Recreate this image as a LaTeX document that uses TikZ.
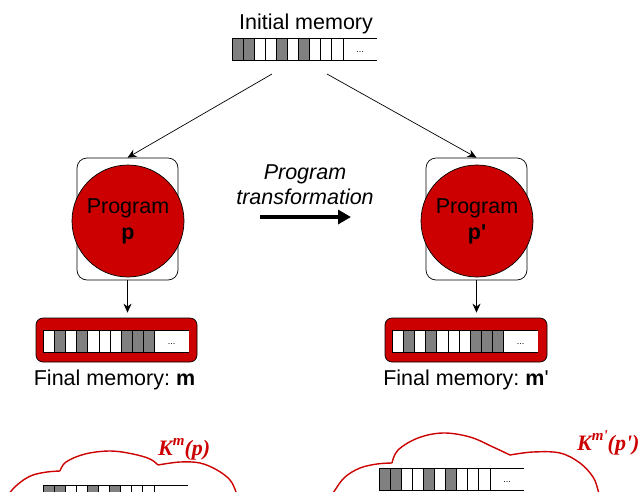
\documentclass[tikz,border=0pt]{standalone}
\usepackage{fontspec}
\setmainfont{Liberation Sans}
\newfontfamily\kfont{Liberation Serif}
\usetikzlibrary{arrows.meta,calc}
\definecolor{progred}{HTML}{CC0000}
\definecolor{cellgray}{HTML}{808080}
\frenchspacing

\tikzset{
  memslot/.style={minimum width=145pt,minimum height=22pt,inner sep=0pt,draw=none},
  celldraw/.style={draw=black,line width=0.6pt},
  dots/.style={font=\fontsize{9}{9}\selectfont,inner sep=0pt},
  progbox/.style={draw=black,fill=white,rounded corners=10pt,line width=0.7pt,
                  minimum width=101pt,minimum height=122pt,inner sep=0pt},
  progdisc/.style={circle,draw=black,fill=progred,line width=0.7pt,minimum size=112pt,
                   inner sep=0pt,align=center,font=\fontsize{21.5}{26}\selectfont},
  memframe/.style={draw=black,fill=progred,rounded corners=7pt,line width=0.7pt,
                   minimum height=44pt,inner sep=0pt},
  caption/.style={font=\fontsize{21.5}{25}\selectfont,inner sep=0pt},
  flow/.style={line width=0.7pt,-{Stealth[length=9pt,width=8pt]}},
  bigflow/.style={line width=4pt,-{Triangle[length=13pt,width=14pt]}},
  cloudline/.style={draw=progred,line width=1.4pt,line join=round},
  klabel/.style={text=progred,inner sep=0pt,font=\kfont\bfseries\itshape\fontsize{22}{22}\selectfont}
}

% a strip of ten memory cells followed by an open slot
\newcommand{\memcells}[3]{%
  \node[memslot] (#1) at #2 {};
  \fill[white] (#1.north west) rectangle (#1.south east);
  \foreach \s [count=\i from 0] in {#3}{
    \draw[celldraw,fill=\s] ($(#1.north west)+(\i*11.1,0)$) rectangle ($(#1.south west)+(\i*11.1+11.1,0)$);
  }
  \draw[celldraw] (#1.north west) -- (#1.north east) (#1.south west) -- (#1.south east);
}
% the same strip with "..." in its open slot
\newcommand{\memrow}[3]{%
  \memcells{#1}{#2}{#3}
  \node[dots] (#1-dots) at ($(#1.east)+(-17,3)$) {...};
}

\begin{document}
\begin{tikzpicture}[x=1pt,y=-1pt]
\useasboundingbox (0,0) rectangle (643,491);
\clip (0,0) rectangle (643,491);

% initial memory
\node[caption,anchor=base] (initlabel) at (306,29) {Initial memory};
\memrow{initmem}{(304.5,49.5)}{cellgray,cellgray,white,white,cellgray,white,cellgray,white,white,white}
\coordinate (srcL) at (272,74);
\coordinate (srcR) at (327,74);

% the two programs
\node[progbox] (progL) at (127.5,219) {};
\node[progdisc] (discL) at (128,221) {Program\\\textbf{p}};
\node[progbox] (progR) at (476.5,219) {};
\node[progdisc] (discR) at (477,221) {Program\\\textbf{p\textquotesingle}};

\draw[flow] (srcL) -- (progL.north);
\draw[flow] (srcR) -- (progR.north);

% transformation between them
\node[caption,anchor=base,align=center,font=\fontsize{21.5}{25}\selectfont\itshape] (trans) at (305,204) {Program\\transformation};
\coordinate (tA) at (260,217);
\coordinate (tB) at (351,217);
\draw[bigflow] (tA) -- (tB);

% final memories
\node[memframe,minimum width=161pt] (finL) at (116.5,340) {};
\memrow{finmemL}{(116,341)}{white,cellgray,white,cellgray,white,white,white,cellgray,cellgray,cellgray}
\node[memframe,minimum width=162pt] (finR) at (466,340) {};
\memrow{finmemR}{(465,341)}{white,cellgray,white,cellgray,white,white,white,cellgray,cellgray,cellgray}

\draw[flow,shorten >=5pt] (progL.south) -- (progL.south |- finL.north);
\draw[flow,shorten >=5pt] (progR.south) -- (progR.south |- finR.north);

\node[caption,anchor=base] (finlabelL) at (114.5,385) {Final memory: \textbf{m}};
\node[caption,anchor=base] (finlabelR) at (466,385) {Final memory: \textbf{m}\textquotesingle};

% knowledge clouds
\draw[cloudline] plot[smooth,tension=0.6] coordinates {(5,500) (12,490) (22,481) (33,475) (47,472) (60,471)};
\draw[cloudline] plot[smooth,tension=0.6] coordinates {(60,471) (66,462) (85,454) (110,451) (133,454) (150,459) (158,465)};
\draw[cloudline] plot[smooth,tension=0.6] coordinates {(158,465) (180,462) (200,463) (217,470) (230,480) (236,492) (238,500)};
\memcells{cloudmemL}{(115.5,496)}{cellgray,cellgray,white,white,cellgray,white,cellgray,white,white,white}
\node[klabel,anchor=base west] (kL) at (158,455) {K\raisebox{0.42em}{\fontsize{15}{15}\selectfont m}(p)};

\draw[cloudline] plot[smooth,tension=0.6] coordinates {(329,500) (335,490) (345,477) (360,468) (377,464) (392,463)};
\draw[cloudline] plot[smooth,tension=0.6] coordinates {(392,463) (398,450) (418,438) (443,433) (470,437) (493,447) (510,455)};
\draw[cloudline] plot[smooth,tension=0.6] coordinates {(510,455) (533,452) (560,453) (580,463) (593,477) (598,490) (600,500)};
\memrow{cloudmemR}{(451.5,479)}{cellgray,cellgray,white,white,cellgray,white,cellgray,white,white,white}
\node[klabel,anchor=base west] (kR) at (577,450) {K\raisebox{0.42em}{\fontsize{15}{15}\selectfont m\textquotesingle}(p\textquotesingle)};
\end{tikzpicture}
\end{document}
